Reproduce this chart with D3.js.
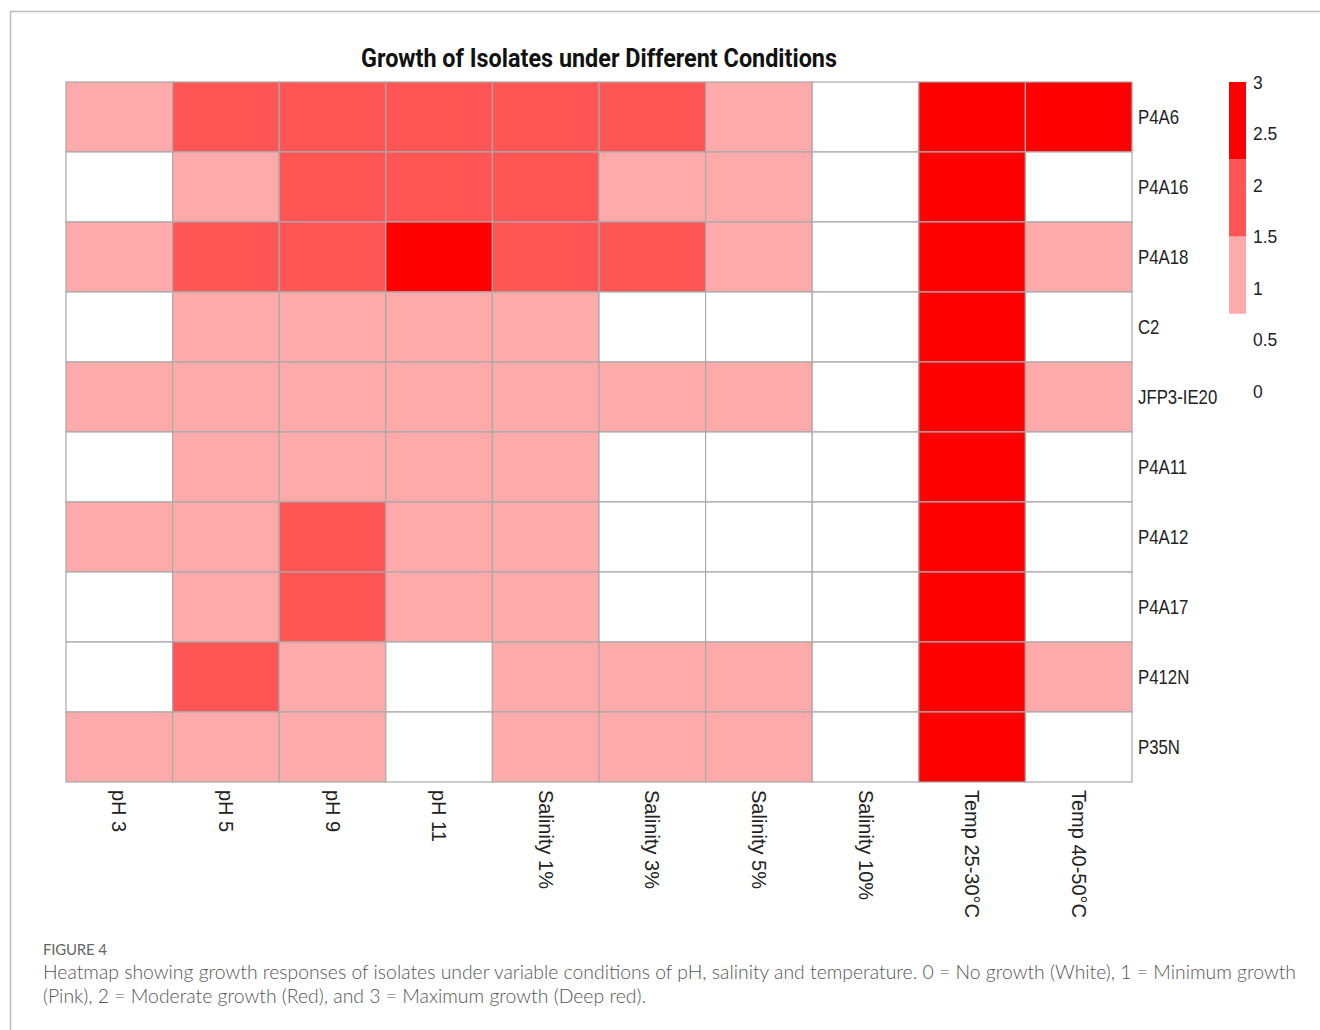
<!DOCTYPE html>
<html>
<head>
<meta charset="utf-8">
<script src="https://cdn.jsdelivr.net/npm/d3@7/dist/d3.min.js"></script>
<style>
  html, body { margin: 0; padding: 0; background: #fff; }
  svg { display: block; }
</style>
</head>
<body>
<svg id="chart" width="1320" height="1030"></svg>
<script>
const conditions = ["pH 3", "pH 5", "pH 9", "pH 11", "Salinity 1%", "Salinity 3%", "Salinity 5%", "Salinity 10%", "Temp 25-30°C", "Temp 40-50°C"];
const isolates = ["P4A6", "P4A16", "P4A18", "C2", "JFP3-IE20", "P4A11", "P4A12", "P4A17", "P412N", "P35N"];
const growth = [
  [1, 2, 2, 2, 2, 2, 1, 0, 3, 3],
  [0, 1, 2, 2, 2, 1, 1, 0, 3, 0],
  [1, 2, 2, 3, 2, 2, 1, 0, 3, 1],
  [0, 1, 1, 1, 1, 0, 0, 0, 3, 0],
  [1, 1, 1, 1, 1, 1, 1, 0, 3, 1],
  [0, 1, 1, 1, 1, 0, 0, 0, 3, 0],
  [1, 1, 2, 1, 1, 0, 0, 0, 3, 0],
  [0, 1, 2, 1, 1, 0, 0, 0, 3, 0],
  [0, 2, 1, 0, 1, 1, 1, 0, 3, 1],
  [1, 1, 1, 0, 1, 1, 1, 0, 3, 0]
];
const legendTicks = [0, 0.5, 1, 1.5, 2, 2.5, 3];
const binEdges = [0.75, 1.5, 2.25];
const binColors = ["#ffffff", "#ffaaaa", "#ff5555", "#ff0000"];
const titleText = "Growth of Isolates under Different Conditions";
const figLabel = "FIGURE 4";
const captionLines = [
  "Heatmap showing growth responses of isolates under variable conditions of pH, salinity and temperature. 0 = No growth (White), 1 = Minimum growth",
  "(Pink), 2 = Moderate growth (Red), and 3 = Maximum growth (Deep red)."
];
const captionWidths = [1253, 603];

const svg = d3.select("#chart");

// card frame (top and left edges visible)
svg.append("path")
  .attr("d", "M10.5,1030 L10.5,11.5 L1320,11.5")
  .attr("fill", "none").attr("stroke", "#bdbdbd").attr("stroke-width", 1.5);

const x = d3.scaleBand().domain(conditions).range([66, 1132]);
const y = d3.scaleBand().domain(isolates).range([82, 782]);
const color = d3.scaleThreshold().domain(binEdges).range(binColors);

const cells = [];
isolates.forEach((r, i) => conditions.forEach((c, j) => cells.push({ r, c, v: growth[i][j] })));

svg.append("g").selectAll("rect").data(cells).join("rect")
  .attr("x", d => x(d.c))
  .attr("y", d => y(d.r))
  .attr("width", x.bandwidth())
  .attr("height", y.bandwidth())
  .attr("fill", d => color(d.v))
  .attr("stroke", "#a9a9a9")
  .attr("stroke-width", 1.2);

// title
svg.append("text")
  .attr("x", 599).attr("y", 67)
  .attr("text-anchor", "middle")
  .attr("font-family", "Roboto, 'Liberation Sans', sans-serif")
  .attr("font-weight", "bold")
  .attr("font-size", 25)
  .attr("textLength", 476)
  .attr("lengthAdjust", "spacingAndGlyphs")
  .attr("fill", "#111")
  .text(titleText);

// row labels (right side)
svg.append("g").selectAll("text").data(isolates).join("text")
  .attr("transform", d => `translate(1138,${y(d) + y.bandwidth() / 2}) scale(0.84,1)`)
  .attr("dy", "0.35em")
  .attr("font-family", "'Liberation Sans', Arial, sans-serif")
  .attr("font-size", 20)
  .attr("fill", "#222")
  .text(d => d);

// column labels (rotated)
svg.append("g").selectAll("text").data(conditions).join("text")
  .attr("transform", d => `translate(${x(d) + x.bandwidth() / 2},790) rotate(90)`)
  .attr("dy", "0.35em")
  .attr("font-family", "'Liberation Sans', Arial, sans-serif")
  .attr("font-size", 20)
  .attr("fill", "#222")
  .text(d => d);

// legend
const ly = d3.scaleLinear().domain([0, 3]).range([391, 82]);
const bins = [[0.75, 1.5, binColors[1]], [1.5, 2.25, binColors[2]], [2.25, 3, binColors[3]]];
svg.append("g").selectAll("rect").data(bins).join("rect")
  .attr("x", 1229).attr("width", 17)
  .attr("y", d => ly(d[1]))
  .attr("height", d => ly(d[0]) - ly(d[1]))
  .attr("fill", d => d[2]);
svg.append("g").selectAll("text").data(legendTicks).join("text")
  .attr("transform", d => `translate(1253,${ly(d)}) scale(0.92,1)`)
  .attr("dy", "0.35em")
  .attr("font-family", "'Liberation Sans', Arial, sans-serif")
  .attr("font-size", 19)
  .attr("fill", "#222")
  .text(d => d);

// caption
svg.append("text")
  .attr("x", 43).attr("y", 955)
  .attr("font-family", "Lato, 'Open Sans', sans-serif")
  .attr("font-size", 15)
  .attr("fill", "#666")
  .attr("letter-spacing", -0.2)
  .text(figLabel);
svg.append("g").selectAll("text").data(captionLines).join("text")
  .attr("x", 43)
  .attr("y", (d, i) => 979 + i * 24)
  .attr("font-family", "Lato, 'Open Sans', sans-serif")
  .attr("font-weight", 300)
  .attr("font-size", 19)
  .attr("fill", "#555")
  .attr("textLength", (d, i) => captionWidths[i])
  .attr("lengthAdjust", "spacingAndGlyphs")
  .text(d => d);
</script>
</body>
</html>
